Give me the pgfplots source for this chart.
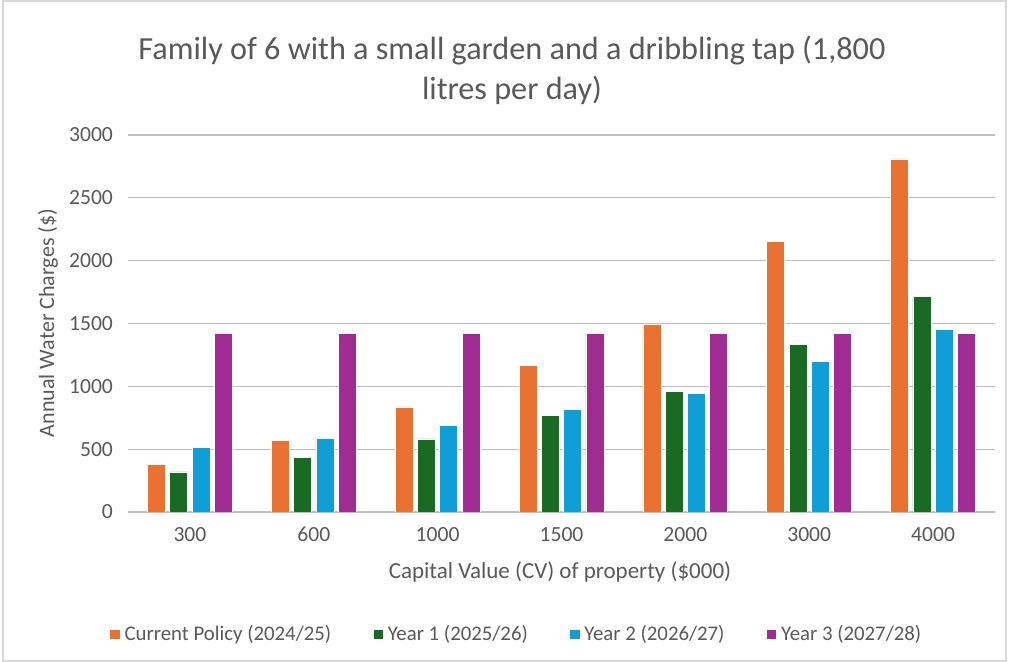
\documentclass[border=0pt]{standalone}
\usepackage{pgfplots}
\pgfplotsset{compat=1.18}
\usepackage{fontspec}
\setmainfont{Carlito}
\definecolor{txt}{HTML}{595959}
\definecolor{grid}{HTML}{D9D9D9}
\definecolor{cOr}{HTML}{E97132}
\definecolor{cGr}{HTML}{196B24}
\definecolor{cBl}{HTML}{0F9ED5}
\definecolor{cPu}{HTML}{A02B93}
\begin{document}
\begin{tikzpicture}
\path[use as bounding box] (0,0) rectangle (504.5pt,331pt);
\draw[grid, line width=0.6pt] (1.5pt,0.5pt) rectangle (503pt,330.5pt);
\begin{axis}[
  at={(64pt,75pt)}, anchor=south west,
  scale only axis, width=433.5pt, height=188.5pt,
  ybar=2.15pt, bar width=9pt,
  xmin=-0.5, xmax=6.5, ymin=0, ymax=3000,
  xtick=data, xticklabels={300,600,1000,1500,2000,3000,4000},
  ytick={0,500,...,3000},
  axis line style={draw=none},
  xtick style={draw=none}, ytick style={draw=none},
  major tick length=0pt,
  ymajorgrids, xmajorgrids=false, grid style={grid, line width=0.6pt},
  /pgf/number format/assume math mode=true,
  /pgf/number format/1000 sep={},
  tick label style={text=txt, font=\fontsize{10.8}{13}\selectfont},
  yticklabel style={xshift=-4pt},
  xticklabel style={yshift=-4pt},
  legend columns=4,
  legend style={at={(0.449,-0.324)}, anchor=center, draw=none, fill=none,
    text=txt, font=\fontsize{10.4}{12}\selectfont,
    /tikz/every even column/.append style={column sep=18.7pt}},
  legend image code/.code={\fill[#1] (0pt,-2.6pt) rectangle (5.2pt,2.6pt);},
  every axis plot/.append style={draw=white, line width=0.4pt},
]
\addplot[fill=cOr] coordinates {(0,377) (1,571) (2,836) (3,1166) (4,1495) (5,2153) (6,2809)};
\addplot[fill=cGr] coordinates {(0,319) (1,433) (2,581) (3,770) (4,959) (5,1335) (6,1712)};
\addplot[fill=cBl] coordinates {(0,513) (1,587) (2,688) (3,815) (4,943) (5,1198) (6,1452)};
\addplot[fill=cPu] coordinates {(0,1421) (1,1421) (2,1421) (3,1421) (4,1421) (5,1421) (6,1421)};
\legend{Current Policy (2024/25), Year 1 (2025/26), Year 2 (2026/27), Year 3 (2027/28)}
\end{axis}
\node[text=txt, align=center, font=\fontsize{16.1}{20}\selectfont] at (256pt,296pt)
  {Family of 6 with a small garden and a dribbling tap (1,800\\litres per day)};
\node[text=txt, rotate=90, font=\fontsize{11}{13}\selectfont] at (24pt,169.5pt) {Annual Water Charges (\$)};
\node[text=txt, font=\fontsize{11.5}{13}\selectfont] at (280pt,45pt) {Capital Value (CV) of property (\$000)};
\end{tikzpicture}
\end{document}
